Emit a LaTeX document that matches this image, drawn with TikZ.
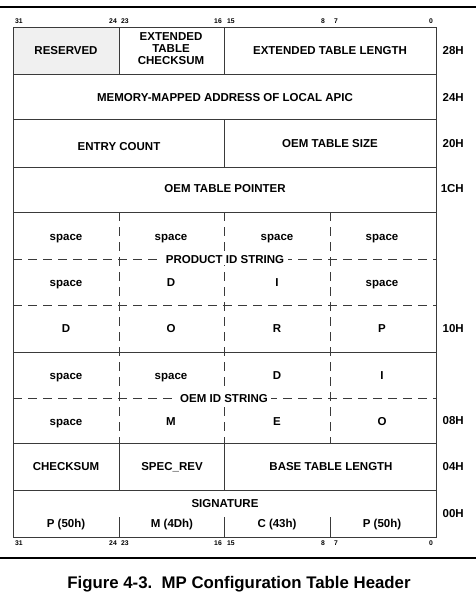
\documentclass[tikz,border=0pt]{standalone}
\usepackage{fontspec}
\setmainfont{Liberation Sans}
\definecolor{linegray}{HTML}{3A3A3A}
\definecolor{resgray}{HTML}{F0F0F0}
\begin{document}
\begin{tikzpicture}[x=1pt,y=-1pt,
  frame/.style={draw=linegray, line width=0.9pt},
  dsh/.style={draw=linegray, line width=0.9pt, dash pattern=on 9pt off 6pt},
  cell/.style={font=\fontsize{11.5}{12}\selectfont\bfseries, inner sep=1pt, align=center, anchor=base},
  lbl/.style={cell, fill=white, inner xsep=3.5pt, inner ysep=2pt},
  bit/.style={font=\fontsize{6.8}{7}\selectfont\bfseries, inner sep=0pt, anchor=base},
  off/.style={font=\fontsize{11.5}{13}\selectfont\bfseries, anchor=base east, inner sep=0pt},
  rulebar/.style={draw=black, line width=1.8pt}]
\useasboundingbox (0,0) rectangle (476,600);
% rules
\draw[rulebar] (0,7) -- (476,7);
\draw[rulebar] (0,558) -- (476,558);
% reserved fill
\fill[resgray] (13,27) rectangle (119,74);
% outer frame and solid horizontals
\draw[frame] (13,27) rectangle (436,537);
\foreach \yy in {74,119,167,212,352,443,490} \draw[frame] (13,\yy) -- (436,\yy);
% dashed horizontals
\foreach \yy in {259,305,398} \draw[dsh] (13,\yy) -- (436,\yy);
% verticals
\draw[frame] (119,27) -- (119,74);
\draw[frame] (224,27) -- (224,74);
\draw[frame] (224,119) -- (224,167);
\foreach \xx in {119,224,330} \draw[dsh] (\xx,212) -- (\xx,443);
\draw[frame] (119,443) -- (119,490);
\draw[frame] (224,443) -- (224,490);
\foreach \xx in {119,224,330} \draw[frame] (\xx,517) -- (\xx,537);
% bit labels top and bottom
\foreach \yy/\nm in {23.5/t,545.5/b}{
  \node[bit, anchor=base west] (\nm31) at (15,\yy) {31};
  \node[bit, anchor=base east] (\nm24) at (117,\yy) {24};
  \node[bit, anchor=base west] (\nm23) at (121,\yy) {23};
  \node[bit, anchor=base east] (\nm16) at (222,\yy) {16};
  \node[bit, anchor=base west] (\nm15) at (227,\yy) {15};
  \node[bit, anchor=base east] (\nm8) at (325,\yy) {8};
  \node[bit, anchor=base west] (\nm7) at (334,\yy) {7};
  \node[bit, anchor=base east] (\nm0) at (433,\yy) {0};
}
% upper rows
\node[cell] (res) at (66,54) {RESERVED};
\node[cell, anchor=center] (etc) at (171,48.5) {EXTENDED\\TABLE\\CHECKSUM};
\node[cell] (etl) at (330,54) {EXTENDED TABLE LENGTH};
\node[cell] (apic) at (225,101) {MEMORY-MAPPED ADDRESS OF LOCAL APIC};
\node[cell] (ecnt) at (119,150) {ENTRY COUNT};
\node[cell] (osz) at (330,147) {OEM TABLE SIZE};
\node[cell] (optr) at (225,192) {OEM TABLE POINTER};
% product id string
\node[cell] (p1) at (66,240) {space};
\node[cell] (p2) at (171,240) {space};
\node[cell] (p3) at (277,240) {space};
\node[cell] (p4) at (382,240) {space};
\node[cell] (p5) at (66,286) {space};
\node[cell] (p6) at (171,286) {D};
\node[cell] (p7) at (277,286) {I};
\node[cell] (p8) at (382,286) {space};
\node[cell] (p9) at (66,332) {D};
\node[cell] (p10) at (171,332) {O};
\node[cell] (p11) at (277,332) {R};
\node[cell] (p12) at (382,332) {P};
\node[lbl] (pid) at (225,263) {PRODUCT ID STRING};
% oem id string
\node[cell] (o1) at (66,379) {space};
\node[cell] (o2) at (171,379) {space};
\node[cell] (o3) at (277,379) {D};
\node[cell] (o4) at (382,379) {I};
\node[cell] (o5) at (66,425) {space};
\node[cell] (o6) at (171,425) {M};
\node[cell] (o7) at (277,425) {E};
\node[cell] (o8) at (382,425) {O};
\node[lbl] (oid) at (224,402) {OEM ID STRING};
% 04H row
\node[cell] (cks) at (66,470) {CHECKSUM};
\node[cell] (srev) at (172,470) {SPEC\_REV};
\node[cell] (btl) at (331,470) {BASE TABLE LENGTH};
% signature
\node[cell] (sig) at (225,507) {SIGNATURE};
\node[cell] (s1) at (66,527) {P (50h)};
\node[cell] (s2) at (172,527) {M (4Dh)};
\node[cell] (s3) at (277,527) {C (43h)};
\node[cell] (s4) at (382,527) {P (50h)};
% offsets
\node[off] (h28) at (464,54) {28H};
\node[off] (h24) at (464,101) {24H};
\node[off] (h20) at (464,147) {20H};
\node[off] (h1c) at (464,192) {1CH};
\node[off] (h10) at (464,332) {10H};
\node[off] (h08) at (464,424) {08H};
\node[off] (h04) at (464,470) {04H};
\node[off] (h00) at (464,517) {00H};
% caption
\node[font=\fontsize{16.8}{19}\selectfont\bfseries, inner sep=0pt, anchor=base] (cap) at (239,588) {Figure 4-3.\ \ MP Configuration Table Header};
\end{tikzpicture}
\end{document}
